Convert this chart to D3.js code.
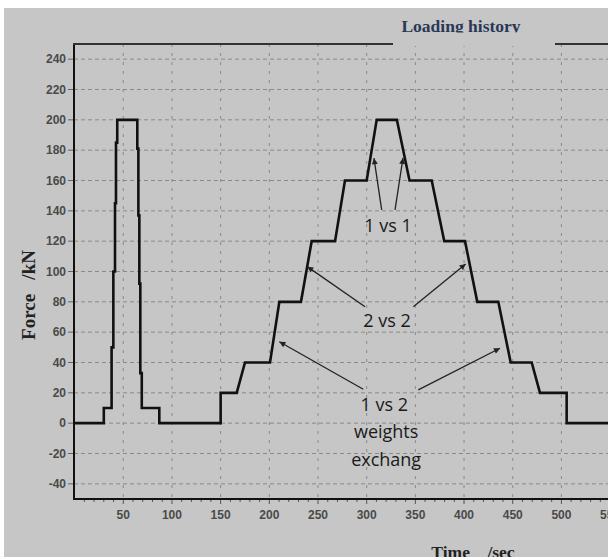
<!DOCTYPE html>
<html>
<head>
<meta charset="utf-8">
<script src="https://cdn.jsdelivr.net/npm/d3@7"></script>
<style>
  html, body { margin: 0; padding: 0; background: #fff; }
  svg { display: block; }
  text { white-space: pre; }
</style>
</head>
<body>
<svg id="chart"></svg>
<script>
// ---------- data ----------
let timeSec = [0, 30, 30, 38, 38, 39.8, 39.8, 41.5, 41.5, 42.5, 42.5, 43.8, 43.8, 64.4,
	64.4, 65.5, 65.5, 66.5, 66.5, 67.5, 67.5, 69, 69, 87, 87, 150, 150, 166.5, 175, 200.7,
	210.3, 232.5, 243.5, 267.5, 277.7, 300, 310.3, 331, 344, 366.8, 379.7, 401, 413.6,
	435.2, 447.9, 469.5, 478, 505.4, 505.4, 640]
let forceKN = [0, 0, 10, 10, 50, 50, 100, 100, 145, 145, 185, 185, 200, 200,
	181, 181, 137, 137, 92, 92, 33, 33, 10, 10, 0, 0, 20, 20, 40, 40,
	80, 80, 120, 120, 160, 160, 200, 200, 160, 160, 120, 120, 80,
	80, 40, 40, 20, 20, 0, 0]

let xTickValues = [50, 100, 150, 200, 250, 300, 350, 400, 450, 500, 550]
let yTickValues = [-40, -20, 0, 20, 40, 60, 80, 100, 120, 140, 160, 180, 200, 220, 240]

// annotation text, centre given in data units
let noteText = ['1 vs 1', '2 vs 2', '1 vs 2', 'weights', 'exchang']
let noteT = [322, 321, 318, 320, 320]
let noteF = [130, 67.4, 12, -5.8, -24.3]

// arrows: start (t0,f0) -> tip (t1,f1)
let arrowT0 = [315.4, 329.1, 298.3, 347.9, 296.5, 353]
let arrowF0 = [140.6, 140.6, 76.8, 76.8, 22.4, 21.9]
let arrowT1 = [307.5, 337.3, 239, 401.7, 210.3, 436.9]
let arrowF1 = [174.7, 174.9, 103.2, 105, 53.7, 49.4]

// ---------- general ----------
let W = 608
let H = 557

let svg = d3.select('#chart')
	.attr('width', W)
	.attr('height', H)

let x = d3.scaleLinear().domain([0, 600]).range([74.6, 74.6 + 600 * 0.9736])
let y = d3.scaleLinear().domain([-50, 250]).range([499, 44])

let plotLeft = x(0) - 0.6
let plotTop = y(250)
let plotBottom = y(-50)

// window background
svg.append('rect').attr('width', W).attr('height', H).attr('fill', '#fff')
svg.append('rect').attr('x', 4).attr('y', 8).attr('width', W - 4).attr('height', H - 8).attr('fill', '#c6c6c6')

// ---------- grid ----------
let grid = svg.append('g').attr('class', 'grid')

grid.selectAll('line.h').data(yTickValues)
	.enter().append('line')
	.attr('class', 'h')
	.attr('x1', plotLeft).attr('x2', W)
	.attr('y1', d => y(d)).attr('y2', d => y(d))
	.attr('stroke', '#8a8a8a')
	.attr('stroke-width', 1)
	.attr('stroke-dasharray', '4,3')

grid.selectAll('line.v').data(xTickValues)
	.enter().append('line')
	.attr('class', 'v')
	.attr('x1', d => x(d)).attr('x2', d => x(d))
	.attr('y1', plotTop).attr('y2', plotBottom)
	.attr('stroke', '#8a8a8a')
	.attr('stroke-width', 1)
	.attr('stroke-dasharray', '3,6')

// ---------- axes ----------
let axG = svg.append('g').attr('class', 'axes')

// minor ticks along the time axis
axG.selectAll('line.mt').data(d3.range(10, 600, 10))
	.enter().append('line')
	.attr('class', 'mt')
	.attr('x1', d => x(d)).attr('x2', d => x(d))
	.attr('y1', plotBottom).attr('y2', d => d % 50 == 0 ? plotBottom + 5 : plotBottom + 3)
	.attr('stroke', '#555')
	.attr('stroke-width', 1)

axG.selectAll('line.yt').data(yTickValues)
	.enter().append('line')
	.attr('class', 'yt')
	.attr('x1', plotLeft - 6).attr('x2', plotLeft)
	.attr('y1', d => y(d)).attr('y2', d => y(d))
	.attr('stroke', '#666')
	.attr('stroke-width', 1)

axG.append('line')
	.attr('x1', plotLeft).attr('x2', plotLeft)
	.attr('y1', plotTop - 1).attr('y2', plotBottom + 1)
	.attr('stroke', '#111').attr('stroke-width', 2)

axG.append('line')
	.attr('x1', plotLeft - 1).attr('x2', W)
	.attr('y1', plotBottom).attr('y2', plotBottom)
	.attr('stroke', '#111').attr('stroke-width', 2)

axG.append('line')
	.attr('x1', plotLeft - 1).attr('x2', W)
	.attr('y1', plotTop).attr('y2', plotTop)
	.attr('stroke', '#333').attr('stroke-width', 2)

axG.selectAll('text.yl').data(yTickValues)
	.enter().append('text')
	.attr('class', 'yl')
	.attr('x', plotLeft - 8)
	.attr('y', d => y(d))
	.attr('dy', '0.36em')
	.attr('text-anchor', 'end')
	.attr('font-family', 'Liberation Sans, Arial, sans-serif')
	.attr('font-size', '12px')
	.attr('font-weight', 'bold')
	.attr('fill', '#4a4a4a')
	.text(d => d)

axG.selectAll('text.xl').data(xTickValues)
	.enter().append('text')
	.attr('class', 'xl')
	.attr('x', d => x(d))
	.attr('y', plotBottom + 20)
	.attr('text-anchor', 'middle')
	.attr('font-family', 'Liberation Sans, Arial, sans-serif')
	.attr('font-size', '12px')
	.attr('font-weight', 'bold')
	.attr('fill', '#4a4a4a')
	.text(d => d)

// axis titles
svg.append('text')
	.attr('transform', `translate(35, 295) rotate(-90)`)
	.attr('text-anchor', 'middle')
	.attr('font-family', 'Liberation Serif, Times New Roman, serif')
	.attr('font-size', '19px')
	.attr('font-weight', 'bold')
	.attr('fill', '#222')
	.text('Force   /kN')

svg.append('text')
	.attr('x', 473)
	.attr('y', 558)
	.attr('text-anchor', 'middle')
	.attr('font-family', 'Liberation Serif, Times New Roman, serif')
	.attr('font-size', '17.5px')
	.attr('font-weight', 'bold')
	.attr('fill', '#222')
	.text('Time    /sec')

// title box covers the frame, text is cut at its baseline
svg.append('rect')
	.attr('x', 393).attr('y', 8).attr('width', 162).attr('height', plotTop - 8 + 2)
	.attr('fill', '#c6c6c6')

svg.append('clipPath').attr('id', 'titleClip')
	.append('rect').attr('x', 380).attr('y', 0).attr('width', 200).attr('height', 32.5)

svg.append('text')
	.attr('clip-path', 'url(#titleClip)')
	.attr('x', 461)
	.attr('y', 32)
	.attr('text-anchor', 'middle')
	.attr('font-family', 'Liberation Serif, Times New Roman, serif')
	.attr('font-size', '17.5px')
	.attr('font-weight', 'bold')
	.attr('fill', '#2a3856')
	.text('Loading history')

// ---------- loading curve ----------
let pts = timeSec.map((t, i) => [t, forceKN[i]])

let lineGen = d3.line()
	.x(d => x(d[0]))
	.y(d => y(d[1]))

svg.append('path')
	.attr('d', lineGen(pts))
	.attr('fill', 'none')
	.attr('stroke', '#111')
	.attr('stroke-width', 2.6)
	.attr('stroke-linejoin', 'miter')

// ---------- annotations ----------
svg.append('defs').append('marker')
	.attr('id', 'head')
	.attr('viewBox', '0 0 10 10')
	.attr('refX', 10).attr('refY', 5)
	.attr('markerUnits', 'userSpaceOnUse')
	.attr('markerWidth', 8).attr('markerHeight', 6)
	.attr('orient', 'auto')
	.append('path')
	.attr('d', 'M0,0 L10,5 L0,10 z')
	.attr('fill', '#222')

svg.append('g').attr('class', 'arrows')
	.selectAll('line').data(arrowT0)
	.enter().append('line')
	.attr('x1', (d, i) => x(arrowT0[i]))
	.attr('y1', (d, i) => y(arrowF0[i]))
	.attr('x2', (d, i) => x(arrowT1[i]))
	.attr('y2', (d, i) => y(arrowF1[i]))
	.attr('stroke', '#222')
	.attr('stroke-width', 1.3)
	.attr('marker-end', 'url(#head)')

svg.append('g').attr('class', 'notes')
	.selectAll('text').data(noteText)
	.enter().append('text')
	.attr('x', (d, i) => x(noteT[i]))
	.attr('y', (d, i) => y(noteF[i]))
	.attr('dy', '0.35em')
	.attr('text-anchor', 'middle')
	.attr('font-family', 'Open Sans, sans-serif')
	.attr('font-size', '18px')
	.attr('fill', '#1a1a1a')
	.text(d => d)
</script>
</body>
</html>
